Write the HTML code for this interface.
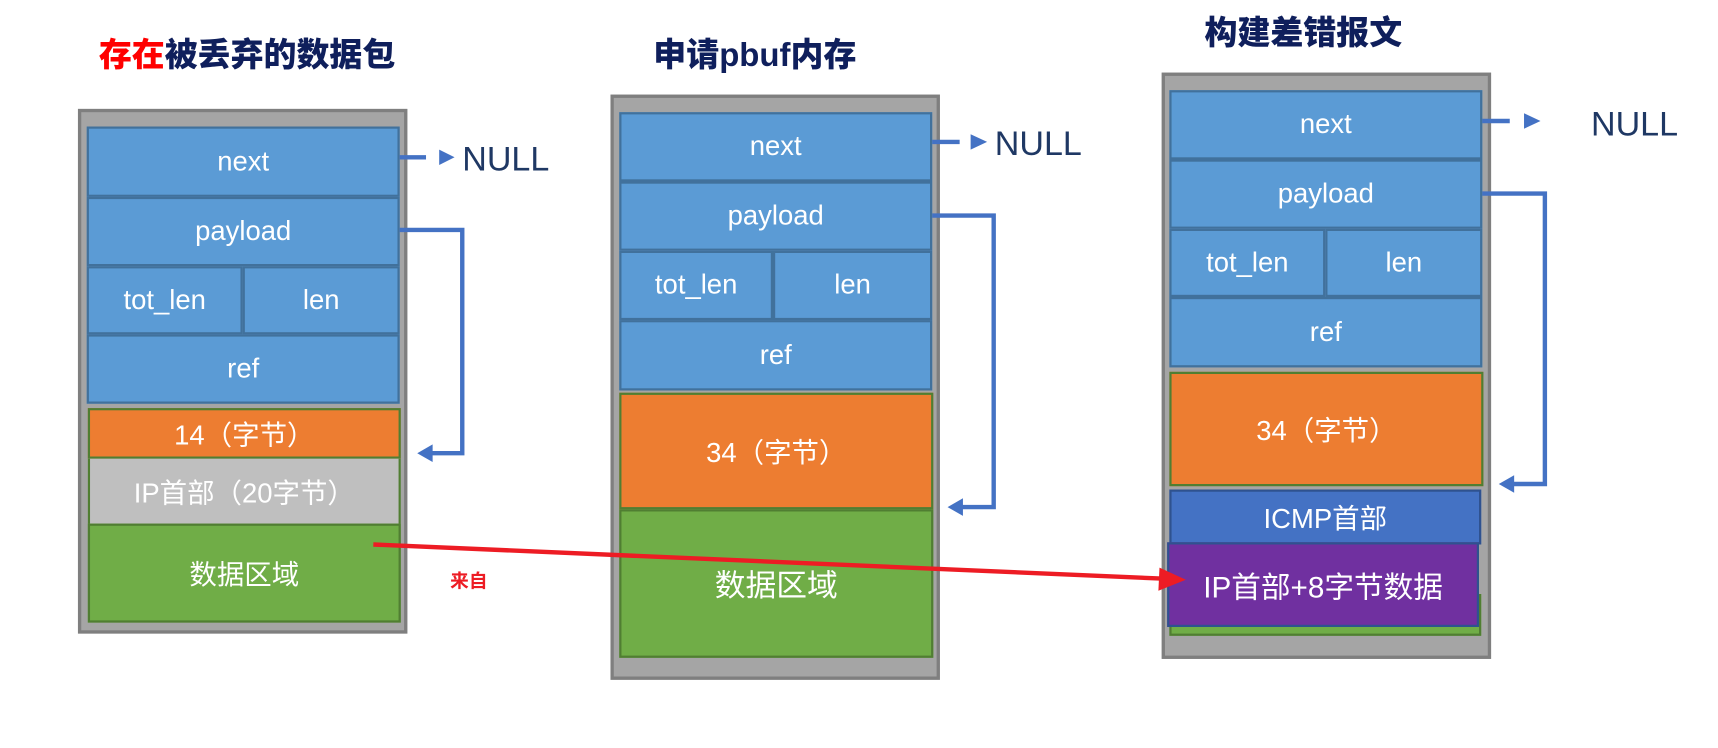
<!DOCTYPE html>
<html><head><meta charset="utf-8"><style>
html,body{margin:0;padding:0;background:#fff;width:1718px;height:748px;overflow:hidden}
#c{position:absolute;left:0;top:0;width:1560px;height:680px;transform:scale(1.098,1.1);transform-origin:0 0;font-family:"Liberation Sans","Noto Sans CJK SC",sans-serif}
.a{position:absolute;box-sizing:border-box;display:flex;align-items:center;justify-content:center;color:#fff;font-size:25px}
.g{background:#a5a5a5;border:3px solid #7f7f7f}
.b{background:#5b9bd5;border:2px solid #41719c}
.o{background:#ed7d31;border:2px solid #507e32}
.gr{background:#70ad47;border:2px solid #507e32}
.t{position:absolute;font-weight:900;font-size:30px;color:#0f1f5c;white-space:nowrap}
.n{position:absolute;font-size:31px;color:#1f3864}
</style></head><body><div id="c">
<div class="t" style="left:90px;top:25px"><span style="color:#ff0000">存在</span>被丢弃的数据包</div>
<div class="t" style="left:595px;top:25px">申请pbuf内存</div>
<div class="t" style="left:1097px;top:5px">构建差错报文</div>

<!-- box1 -->
<div class="a g" style="left:71px;top:99px;width:300px;height:477px"></div>
<div class="a b" style="left:79px;top:115px;width:285px;height:64px">next</div>
<div class="a b" style="left:79px;top:179px;width:285px;height:63px">payload</div>
<div class="a b" style="left:79px;top:242px;width:142px;height:62px">tot_len</div>
<div class="a b" style="left:221px;top:242px;width:143px;height:62px">len</div>
<div class="a b" style="left:79px;top:304px;width:285px;height:63px">ref</div>
<div class="a o" style="left:80px;top:371px;width:285px;height:46px">14（字节）</div>
<div class="a" style="left:80px;top:417px;width:285px;height:59px;background:#bfbfbf;border:2px solid #507e32;border-top:none;border-bottom:none">IP首部（20字节）</div>
<div class="a gr" style="left:80px;top:476px;width:285px;height:90px">数据区域</div>
<div class="n" style="left:421px;top:127px">NULL</div>

<!-- box2 -->
<div class="a g" style="left:556px;top:86px;width:300px;height:532px"></div>
<div class="a b" style="left:564px;top:102px;width:285px;height:63px">next</div>
<div class="a b" style="left:564px;top:165px;width:285px;height:63px">payload</div>
<div class="a b" style="left:564px;top:228px;width:140px;height:63px">tot_len</div>
<div class="a b" style="left:704px;top:228px;width:145px;height:63px">len</div>
<div class="a b" style="left:564px;top:291px;width:285px;height:64px">ref</div>
<div class="a o" style="left:564px;top:357px;width:286px;height:106px">34（字节）</div>
<div class="a gr" style="left:564px;top:463px;width:286px;height:135px;font-size:28px">数据区域</div>
<div class="n" style="left:906px;top:113px">NULL</div>

<!-- box3 -->
<div class="a g" style="left:1058px;top:66px;width:300px;height:533px"></div>
<div class="a b" style="left:1065px;top:82px;width:285px;height:63px">next</div>
<div class="a b" style="left:1065px;top:145px;width:285px;height:63px">payload</div>
<div class="a b" style="left:1065px;top:208px;width:142px;height:62px">tot_len</div>
<div class="a b" style="left:1207px;top:208px;width:143px;height:62px">len</div>
<div class="a b" style="left:1065px;top:270px;width:285px;height:64px">ref</div>
<div class="a o" style="left:1065px;top:338px;width:286px;height:104px">34（字节）</div>
<div class="a gr" style="left:1065px;top:540px;width:284px;height:38px"></div>
<div class="a" style="left:1065px;top:445px;width:284px;height:50px;background:#4472c4;border:2px solid #2f528f">ICMP首部</div>
<div class="a" style="left:1063px;top:493px;width:284px;height:77px;background:#7030a0;border:2px solid #2f528f;font-size:27px">IP首部+8字节数据</div>
<div class="n" style="left:1449px;top:95px">NULL</div>

<div style="position:absolute;left:410px;top:514px;color:#ed1c24;font-weight:bold;font-size:17px">来自</div>

<svg width="1560" height="680" style="position:absolute;left:0;top:0">
<g fill="none" stroke="#4472c4" stroke-width="4">
<path d="M364 143 H388"/><path d="M364 209 H421 V412 H392"/>
<path d="M849 129 H874"/><path d="M849 196 H905 V461 H876"/>
<path d="M1350 110 H1375"/><path d="M1350 176 H1407 V440 H1377"/>
</g>
<g fill="#4472c4">
<polygon points="400,136 414,143 400,150"/>
<polygon points="380,412 394,404 394,420"/>
<polygon points="884,122 899,129 884,136"/>
<polygon points="863,461 877,453 877,469"/>
<polygon points="1388,103 1403,110 1388,117"/>
<polygon points="1365,440 1379,432 1379,448"/>
</g>
<line x1="340" y1="495" x2="1058" y2="526" stroke="#ed1c24" stroke-width="4"/>
<polygon points="1056,516 1080,527 1055,537" fill="#ed1c24"/>
</svg>
</div></body></html>
